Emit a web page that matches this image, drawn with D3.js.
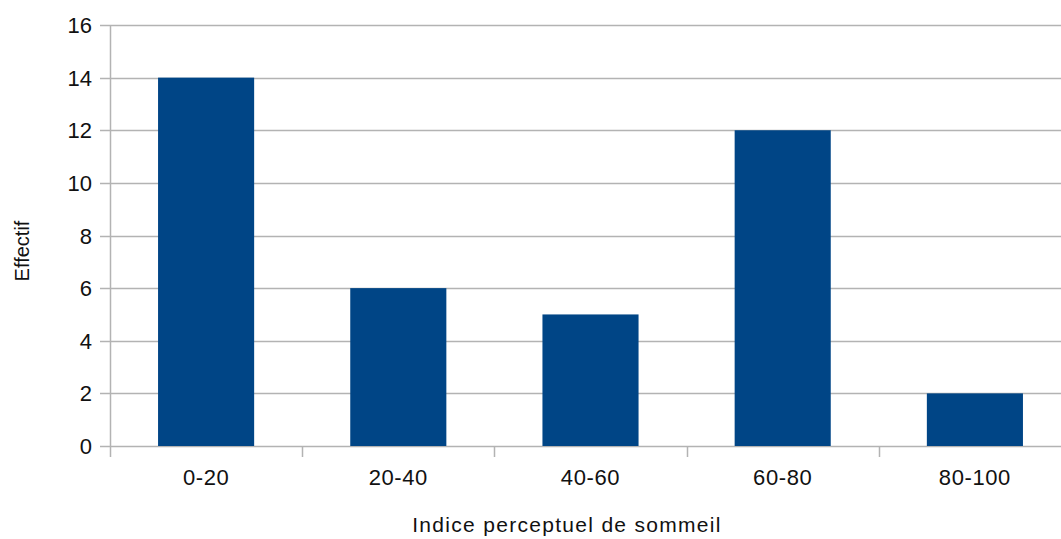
<!DOCTYPE html>
<html>
<head>
<meta charset="utf-8">
<script src="https://cdn.jsdelivr.net/npm/d3@7"></script>
<style>
  html, body { margin: 0; padding: 0; background: #fff; }
  svg { display: block; font-family: "Liberation Sans", Arial, sans-serif; }
</style>
</head>
<body>
<svg id="chart" width="1061" height="539"></svg>
<script>
// Distribution of the perceived sleep index
const categories = ["0-20", "20-40", "40-60", "60-80", "80-100"];
const counts = [14, 6, 5, 12, 2];
const yTicks = [0, 2, 4, 6, 8, 10, 12, 14, 16];
const xTitle = "Indice perceptuel de sommeil";
const yTitle = "Effectif";

const svg = d3.select("#chart");
const plotLeft = 110, plotRight = 1071, plotTop = 25, plotBottom = 446;

const x = d3.scaleBand().domain(categories).range([plotLeft, plotRight]).paddingInner(0.5).paddingOuter(0.25);
const xEdges = d3.scaleBand().domain(categories).range([plotLeft, plotRight]).padding(0);
const y = d3.scaleLinear().domain([0, 16]).range([plotBottom, plotTop]);

const grid = "#b3b3b3";
const textColor = "#111";

// horizontal gridlines with small outer ticks
svg.append("g").selectAll("line").data(yTicks).join("line")
  .attr("x1", plotLeft - 10).attr("x2", plotRight)
  .attr("y1", d => Math.round(y(d)) + 0.5).attr("y2", d => Math.round(y(d)) + 0.5)
  .attr("stroke", grid).attr("stroke-width", 1.5);

// bars
svg.append("g").selectAll("rect").data(categories).join("rect")
  .attr("x", d => x(d)).attr("width", x.bandwidth())
  .attr("y", (d, i) => y(counts[i]))
  .attr("height", (d, i) => y(0) - y(counts[i]))
  .attr("fill", "#004586");

// y axis line
svg.append("line").attr("x1", plotLeft + 0.5).attr("x2", plotLeft + 0.5)
  .attr("y1", plotTop).attr("y2", plotBottom + 11)
  .attr("stroke", grid).attr("stroke-width", 1.5);

// category separator ticks
svg.append("g").selectAll("line").data(categories.slice(1)).join("line")
  .attr("x1", d => Math.round(xEdges(d)) + 0.5).attr("x2", d => Math.round(xEdges(d)) + 0.5)
  .attr("y1", plotBottom).attr("y2", plotBottom + 11)
  .attr("stroke", grid).attr("stroke-width", 1.5);

// y tick labels
svg.append("g").selectAll("text").data(yTicks).join("text")
  .attr("x", 92).attr("y", d => y(d) + 8)
  .attr("text-anchor", "end").attr("font-size", 22).attr("fill", textColor)
  .text(d => d);

// x tick labels
svg.append("g").selectAll("text").data(categories).join("text")
  .attr("x", d => x(d) + x.bandwidth() / 2).attr("y", 485)
  .attr("text-anchor", "middle").attr("font-size", 22)
  .attr("letter-spacing", 0.6).attr("fill", textColor)
  .text(d => d);

// axis titles
svg.append("text").attr("x", 567).attr("y", 532)
  .attr("text-anchor", "middle").attr("font-size", 21)
  .attr("letter-spacing", 1.3).attr("fill", textColor)
  .text(xTitle);

svg.append("text").attr("transform", "translate(29,251) rotate(-90)")
  .attr("text-anchor", "middle").attr("font-size", 20).attr("fill", textColor)
  .text(yTitle);
</script>
</body>
</html>
